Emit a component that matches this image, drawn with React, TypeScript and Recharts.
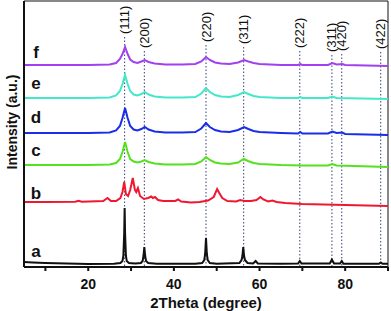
import { LineChart, Line, XAxis, YAxis, ReferenceLine, ReferenceArea, ReferenceDot } from 'recharts';

// 2theta / intensity pairs (raw, before stacking offset)
const patternA: [number, number][] = [
  [5, 2], [7, 1.5], [10, 1], [15, 0.5], [20, 0], [26, 0.3], [27.5, 1], [28, 3], [28.2, 8], [28.4, 31], [28.5, 56],
  [28.6, 31], [28.8, 8], [29, 3], [29.5, 1], [31, 0.5], [32.3, 1], [32.7, 3], [32.9, 8], [33.1, 17], [33.3, 8],
  [33.5, 3], [34, 1], [36, 0.3], [45, 0.3], [46.6, 1], [47.1, 4], [47.3, 10], [47.5, 26], [47.7, 10], [47.9, 4],
  [48.4, 1], [50, 0.3], [55.3, 1], [55.8, 4], [56, 8], [56.2, 17], [56.4, 8], [56.6, 4], [57.2, 1], [58.5, 0.5],
  [59.1, 3], [59.6, 0.5], [65, 0.2], [69, 0.5], [69.4, 3], [69.8, 0.5], [76.4, 0.5], [76.9, 4.5], [77.4, 0.5],
  [78.8, 0.5], [79.2, 3], [79.6, 0.3], [87.9, 0.3], [88.3, 1.5], [88.7, 0.3], [90, 0.3],
];
const patternB: [number, number][] = [
  [5, 0], [10, 0], [17, 0.3], [17.7, 1.2], [18.5, 0.3], [23.5, 1], [24.5, 4], [25.3, 1], [26.5, 1], [27.5, 4],
  [28, 10], [28.4, 20], [28.8, 8], [29.3, 6], [29.8, 12], [30.4, 24], [30.9, 12], [31.2, 10], [31.6, 14], [32.1, 6],
  [33, 3], [34, 4], [34.7, 5.5], [35.1, 4], [35.6, 5], [36.3, 2], [37.5, 1], [40.3, 1], [41, 2.5], [41.7, 0.5],
  [44, -0.5], [46, 0], [48, 1.5], [49.3, 5], [50.1, 13], [50.6, 9], [51.3, 4], [52.5, 1], [54.5, 0.5], [55.5, 2],
  [56.5, 1], [58, 1], [59.3, 2], [60.2, 5], [60.9, 2.5], [62, 0.5], [63, 1.5], [64, 0], [66, -1], [70, -2],
  [80, -3], [90, -4],
];
const patternC: [number, number][] = [
  [5, 0], [20, 0], [25, 0.5], [26.5, 2], [27.4, 6], [28, 13], [28.6, 23], [29.2, 13], [29.8, 6], [30.6, 3.5],
  [31.5, 2.5], [32.4, 3.5], [33.2, 5], [34.1, 3], [35.5, 1.5], [38, 0.5], [42, 0.5], [45, 1], [46.4, 3.5], [47.5, 8],
  [48.4, 5], [49.6, 2.5], [51, 1.5], [53, 1], [55, 2.5], [56.3, 6], [57.3, 4], [58.6, 2], [60, 1], [65, 0],
  [70, -0.5], [76, -0.5], [77, 1], [78, -0.5], [90, -2],
];
const patternD: [number, number][] = [
  [5, 0], [20, 0], [25, 0.5], [26.5, 2.5], [27.4, 7], [28, 15], [28.6, 25], [29.2, 15], [29.8, 7], [30.6, 3.5],
  [31.5, 2.5], [32.4, 4], [33.2, 6], [34.1, 3.5], [35.5, 1.5], [38, 0.5], [42, 0.5], [45, 1], [46.4, 4.5], [47.5, 10],
  [48.4, 6], [49.6, 3], [51, 1.5], [53, 1], [55, 3], [56.4, 6], [57.4, 4], [58.6, 2], [60, 1], [65, 0],
  [69, -0.5], [69.5, 1], [70, -0.5], [76, -0.5], [77, 1.5], [78, 0], [79.3, 0.5], [80, -1], [90, -2],
];
const patternE: [number, number][] = [
  [5, 0], [20, 0], [25, 0.5], [26.5, 2.5], [27.4, 7], [28, 14], [28.6, 23], [29.2, 14], [29.8, 7], [30.6, 3.5],
  [31.5, 2.5], [32.4, 4], [33.2, 6], [34.1, 3.5], [35.5, 1.5], [38, 0.5], [42, 0.5], [45, 1], [46.4, 4.5], [47.5, 10],
  [48.4, 6], [49.6, 3], [51, 1.5], [53, 1], [55, 3], [56.4, 6], [57.4, 4], [58.6, 2], [60, 1], [65, 0],
  [69, 0], [69.5, 1], [70, 0], [76, 0], [77, 1.5], [78, 0], [90, -1],
];
const patternF: [number, number][] = [
  [5, 0], [20, 0], [25, 0.5], [26.5, 2], [27.4, 6], [28, 11], [28.6, 18], [29.2, 11], [29.8, 5.5], [30.6, 3],
  [31.5, 2], [32.4, 3.5], [33.2, 5], [34.1, 3], [35.5, 1.5], [38, 0.5], [42, 0.5], [45, 1], [46.4, 3.5], [47.5, 8],
  [48.4, 5], [49.6, 2.5], [51, 1.5], [53, 1], [55, 2.5], [56.4, 5], [57.4, 3.5], [58.6, 2], [60, 1], [65, 0],
  [69, 0], [69.5, 1], [70, 0], [76, 0], [77, 2], [78, 0.5], [79.3, 1], [80, 0], [90, -1],
];

const sampleNames = ['a', 'b', 'c', 'd', 'e', 'f'];
const sampleOffsets = [3, 65, 102, 134, 169, 202];
const sampleColors = ['#111111', '#f01830', '#55e020', '#1a2ee8', '#44e8c8', '#a040f0'];
const samplePatterns = [patternA, patternB, patternC, patternD, patternE, patternF];

// reflections: position, label, top of dotted line
const peakPositions = [28.5, 33.1, 47.5, 56.3, 69.4, 76.9, 79.2, 88.3];
const peakLabels = ['(111)', '(200)', '(220)', '(311)', '(222)', '(311)', '(420)', '(422)'];
const peakLineTops = [230, 216, 222, 220, 216, 212, 213, 215];

const xTicks = [10, 20, 30, 40, 50, 60, 70, 80, 90];
const labelY = [16, 74, 117, 150, 184, 215];

const font = 'Arial, "Liberation Sans", sans-serif';

const PeakLabel = ({ viewBox, text }: any) => {
  const x = viewBox.x;
  const y = viewBox.y - 3;
  return (
    <text
      x={x}
      y={y}
      transform={`rotate(-90 ${x} ${y})`}
      textAnchor="start"
      dominantBaseline="central"
      fontFamily={font}
      fontSize={13}
      fill="#111"
    >
      {text}
    </text>
  );
};

const YTitle = () => {
  const x = 12;
  const y = 122;
  return (
    <text
      x={x}
      y={y}
      transform={`rotate(-90 ${x} ${y})`}
      textAnchor="middle"
      dominantBaseline="central"
      fontFamily={font}
      fontSize={14}
      fontWeight="bold"
      fill="#111"
    >
      Intensity (a.u.)
    </text>
  );
};

export default function App() {
  const series = samplePatterns.map((p, i) => p.map(([x, y]) => ({ x, y: y + sampleOffsets[i] })));

  return (
    <div style={{ width: 391, height: 311, background: '#fff' }}>
      <style>{'body{margin:0}'}</style>
      <LineChart width={391} height={311} margin={{ top: 1, right: 3, left: 0, bottom: 0 }}>
        <XAxis
          type="number"
          dataKey="x"
          domain={[5, 90]}
          ticks={xTicks}
          allowDataOverflow
          height={44}
          tickSize={4}
          tickMargin={8}
          stroke="#111"
          strokeWidth={2}
          tickFormatter={(v: number) => (v % 20 === 0 ? String(v) : '')}
          tick={{ fontFamily: font, fontSize: 14, fontWeight: 'bold', fill: '#111' }}
          label={{
            value: '2Theta (degree)',
            position: 'insideBottom',
            offset: 3,
            style: { fontFamily: font, fontSize: 15, fontWeight: 'bold', fill: '#111' },
          }}
        />
        <YAxis
          type="number"
          domain={[0, 266]}
          allowDataOverflow
          width={24}
          tick={false}
          tickLine={false}
          stroke="#111"
          strokeWidth={2}
          label={<YTitle />}
        />
        <ReferenceArea x1={5} x2={90} y1={0} y2={266} fill="none" stroke="#111" strokeWidth={1} />
        {peakPositions.map((pos, i) => (
          <ReferenceLine
            key={'pk' + i}
            segment={[{ x: pos, y: peakLineTops[i] }, { x: pos, y: 0 }]}
            stroke="#33407a"
            strokeWidth={1}
            strokeDasharray="1.5 2"
            label={<PeakLabel text={peakLabels[i]} />}
          />
        ))}
        {series.map((d, i) => (
          <Line
            key={sampleNames[i]}
            data={d}
            dataKey="y"
            type="linear"
            stroke={sampleColors[i]}
            strokeWidth={2}
            dot={false}
            isAnimationActive={false}
          />
        ))}
        {sampleNames.map((n, i) => (
          <ReferenceDot
            key={'lb' + n}
            x={7.8}
            y={labelY[i]}
            r={0}
            fill="none"
            stroke="none"
            label={{
              value: n,
              position: 'center',
              style: { fontFamily: font, fontSize: 17, fontWeight: 'bold', fill: '#111' },
            }}
          />
        ))}
      </LineChart>
    </div>
  );
}
